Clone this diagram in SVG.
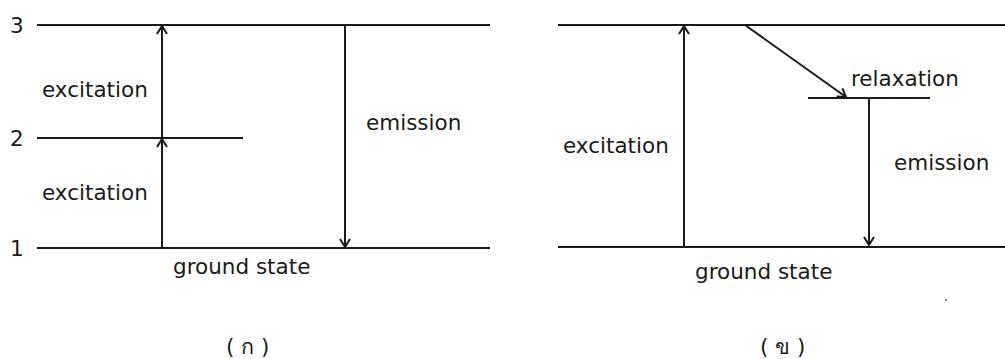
<svg xmlns="http://www.w3.org/2000/svg" width="1005" height="359" viewBox="0 0 1005 359">
<style>
.lv{stroke:#1a1a1a;stroke-width:2;fill:none}
.ar{stroke:#1a1a1a;stroke-width:2;fill:none}
text{font-family:"DejaVu Sans","Noto Sans",sans-serif;font-size:21.5px;fill:#1a1a1a}
</style>
<defs>
<marker id="ah" viewBox="0 0 12 12" refX="11" refY="6" markerWidth="12" markerHeight="12" markerUnits="userSpaceOnUse" orient="auto">
<polyline points="3,1 11,6 3,11" fill="none" stroke="#1a1a1a" stroke-width="2"/>
</marker>
</defs>
<rect width="1005" height="359" fill="#fff"/>
<g id="panel-a">
<g id="level-3a"><line class="lv" x1="37" y1="25" x2="490" y2="25"/><text x="10" y="33">3</text></g>
<g id="level-2a"><line class="lv" x1="37" y1="138" x2="243" y2="138"/><text x="10" y="146">2</text></g>
<g id="level-1a"><line class="lv" x1="37" y1="248" x2="490" y2="248"/><text x="10" y="256">1</text><text x="173" y="274">ground state</text></g>
<g id="labels-a">
<text x="42" y="97">excitation</text>
<text x="42" y="200">excitation</text>
<text x="366" y="130">emission</text>
</g>
<text x="226" y="354">( ก )</text>
</g>
<g id="panel-b">
<g id="level-top-b"><line class="lv" x1="558" y1="25" x2="1005" y2="25"/></g>
<g id="level-mid-b"><line class="lv" x1="808" y1="98" x2="930" y2="98"/></g>
<g id="level-ground-b"><line class="lv" x1="558" y1="247" x2="1005" y2="247"/><text x="695" y="279">ground state</text></g>
<g id="labels-b">
<text x="851" y="86">relaxation</text>
<text x="563" y="153">excitation</text>
<text x="894" y="170">emission</text>
</g>
<text x="760" y="354">( ข )</text>
<circle cx="946" cy="300" r="1" fill="#555"/>
</g>
<g id="connectors">
<line class="ar" x1="162" y1="248" x2="162" y2="139" marker-end="url(#ah)"/>
<line class="ar" x1="162" y1="138" x2="162" y2="26" marker-end="url(#ah)"/>
<line class="ar" x1="345" y1="25" x2="345" y2="247" marker-end="url(#ah)"/>
<line class="ar" x1="684" y1="247" x2="684" y2="26" marker-end="url(#ah)"/>
<line class="ar" x1="745" y1="25" x2="846" y2="97" marker-end="url(#ah)"/>
<line class="ar" x1="869" y1="98" x2="869" y2="245" marker-end="url(#ah)"/>
</g>
</svg>
